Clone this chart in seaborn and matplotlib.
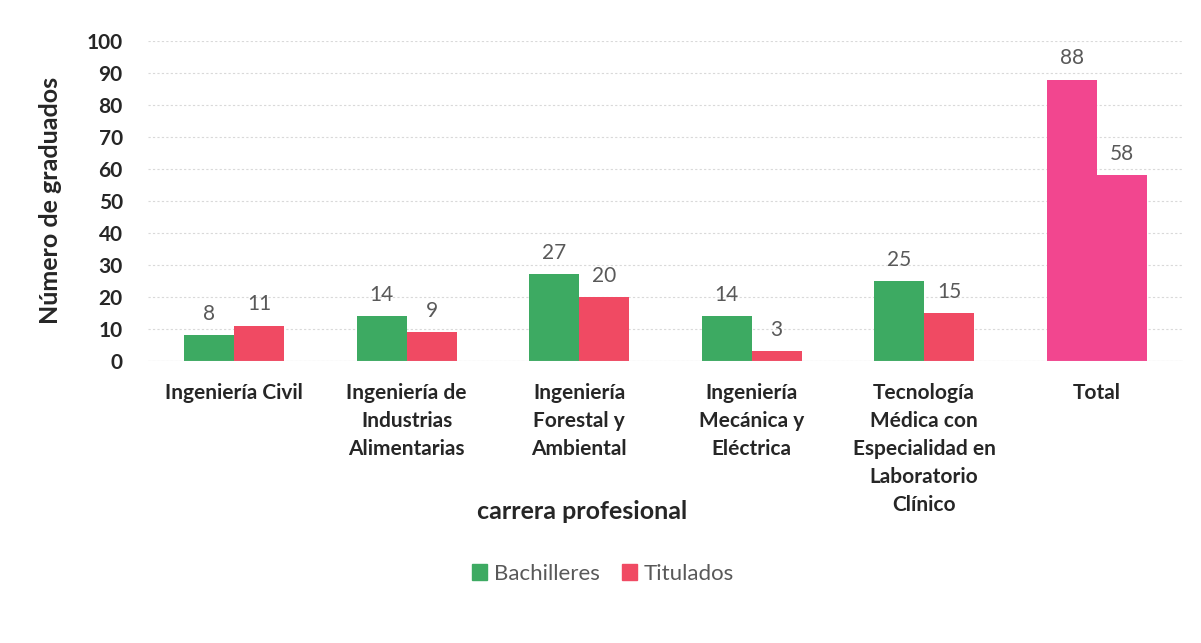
import numpy as np
import pandas as pd
import matplotlib
matplotlib.use("Agg")
import matplotlib.pyplot as plt
import seaborn as sns

carreras = [
    "Ingeniería Civil",
    "Ingeniería de\nIndustrias\nAlimentarias",
    "Ingeniería\nForestal y\nAmbiental",
    "Ingeniería\nMecánica y\nEléctrica",
    "Tecnología\nMédica con\nEspecialidad en\nLaboratorio\nClínico",
    "Total",
]
bachilleres = [8, 14, 27, 14, 25, 88]
titulados = [11, 9, 20, 3, 15, 58]
series = ["Bachilleres", "Titulados"]

verde = "#3DAA62"
rojo = "#F04A63"
rosa = "#F2468F"

df = pd.DataFrame({
    "carrera": carreras * 2,
    "serie": [series[0]] * len(carreras) + [series[1]] * len(carreras),
    "valor": bachilleres + titulados,
})

sns.set_style("white")
plt.rcParams["font.family"] = ["Lato", "DejaVu Sans"]

fig = plt.figure(figsize=(12.01, 6.43), dpi=100)
ax = fig.add_axes([0.123, 0.439, 0.862, 0.497])

sns.barplot(data=df, x="carrera", y="valor", hue="serie", order=carreras,
            hue_order=series, palette=[verde, rojo], width=0.58,
            saturation=1, linewidth=0, ax=ax, legend=False)

# las barras del total van en rosa
for cont in ax.containers:
    cont.patches[-1].set_facecolor(rosa)
    ax.bar_label(cont, padding=8, fontsize=15, color="#595959")

ax.set_ylim(0, 100)
ax.set_yticks(range(0, 101, 10))
ax.set_xlim(-0.5, len(carreras) - 0.5)
ax.grid(axis="y", color="#d9d9d9", linestyle=(0, (2, 2)), linewidth=0.8)
ax.set_axisbelow(True)
for s in ax.spines.values():
    s.set_visible(False)
ax.axhline(0, color="#d9d9d9", linewidth=0.8)

ax.tick_params(axis="both", length=0, labelsize=15)
for lab in ax.get_xticklabels() + ax.get_yticklabels():
    lab.set_fontweight("bold")
    lab.set_color("#262626")
for lab in ax.get_xticklabels():
    lab.set_linespacing(1.5)
ax.tick_params(axis="x", pad=16)
ax.tick_params(axis="y", pad=18)

ax.set_xlabel("carrera profesional", fontsize=18, fontweight="bold",
              color="#262626")
ax.set_ylabel("Número de graduados", fontsize=18, fontweight="bold",
              color="#262626", labelpad=18)
ax.xaxis.set_label_coords(0.42, -0.435)

handles = [plt.Rectangle((0, 0), 1, 1, color=verde),
           plt.Rectangle((0, 0), 1, 1, color=rojo)]
fig.legend(handles, series, loc="center", bbox_to_anchor=(0.502, 0.108), ncol=2,
           frameon=False, fontsize=16, handlelength=0.7, handleheight=0.7,
           handletextpad=0.3, columnspacing=1.0, labelcolor="#595959")

fig.savefig("out.png", dpi=100)
